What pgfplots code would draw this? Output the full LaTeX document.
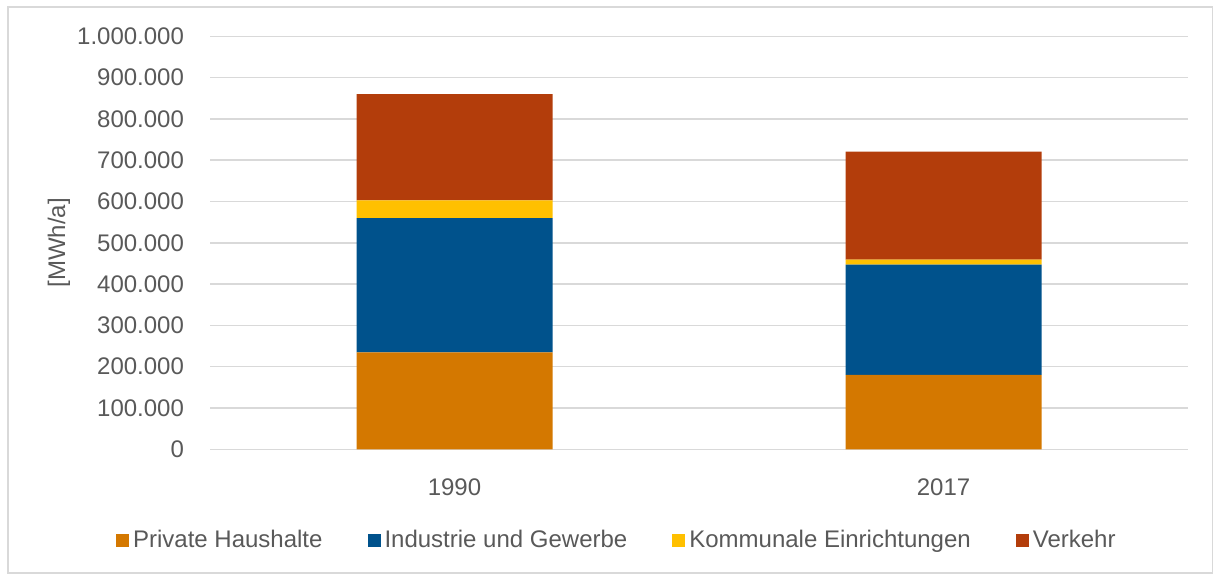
\documentclass[border=0pt]{standalone}
\usepackage{pgfplots}
\pgfplotsset{compat=1.18}
\usepackage{fontspec}
\setmainfont{Liberation Sans}
\definecolor{cPriv}{HTML}{D47800}
\definecolor{cInd}{HTML}{00528C}
\definecolor{cKom}{HTML}{FFC000}
\definecolor{cVer}{HTML}{B33D0B}
\definecolor{txt}{HTML}{595959}
\definecolor{gridc}{HTML}{D9D9D9}
\begin{document}
\begin{tikzpicture}
\useasboundingbox (0,0) rectangle (607pt,287.5pt);
\draw[color=gridc, line width=0.75pt] (4pt,1pt) rectangle (606.3pt,284pt);
\begin{axis}[
  at={(105pt,62.85pt)}, anchor=south west,
  scale only axis, width=489pt, height=206.5pt,
  ybar stacked, bar width=98pt,
  xmin=-0.5, xmax=1.5, ymin=0, ymax=1000000,
  xtick={0,1}, xticklabels={1990,2017},
  ytick={0,100000,200000,300000,400000,500000,600000,700000,800000,900000,1000000},
  scaled y ticks=false,
  /pgf/number format/.cd, fixed, precision=0, 1000 sep={.}, assume math mode=true,
  /pgfplots/.cd,
  ymajorgrids, grid style={line width=0.75pt, color=gridc},
  axis line style={draw=none},
  major tick length=0pt,
  tick label style={font=\fontsize{12}{14}\selectfont, text=txt},
  yticklabel style={xshift=-9.5pt},
  xticklabel style={yshift=-11pt},
  ylabel={[MWh/a]},
  ylabel style={font=\fontsize{12}{14}\selectfont, text=txt, at={(axis description cs:-0.1544,0.5)}, anchor=center, rotate=0},
  legend columns=4,
  legend style={draw=none, fill=none, at={(0.417,-0.2196)}, anchor=center,
    font=\fontsize{12}{14}\selectfont, text=txt,
    /tikz/every even column/.append style={column sep=20.5pt}},
  legend image code/.code={\fill[#1] (-2pt,-3.25pt) rectangle (4.5pt,3.25pt);},
]
\addplot[fill=cPriv, draw=none] coordinates {(0,235000) (1,180000)};
\addplot[fill=cInd, draw=none] coordinates {(0,325000) (1,267000)};
\addplot[fill=cKom, draw=none] coordinates {(0,43000) (1,12000)};
\addplot[fill=cVer, draw=none] coordinates {(0,257000) (1,262000)};
\legend{Private Haushalte, Industrie und Gewerbe, Kommunale Einrichtungen, Verkehr}
\end{axis}
\end{tikzpicture}
\end{document}
